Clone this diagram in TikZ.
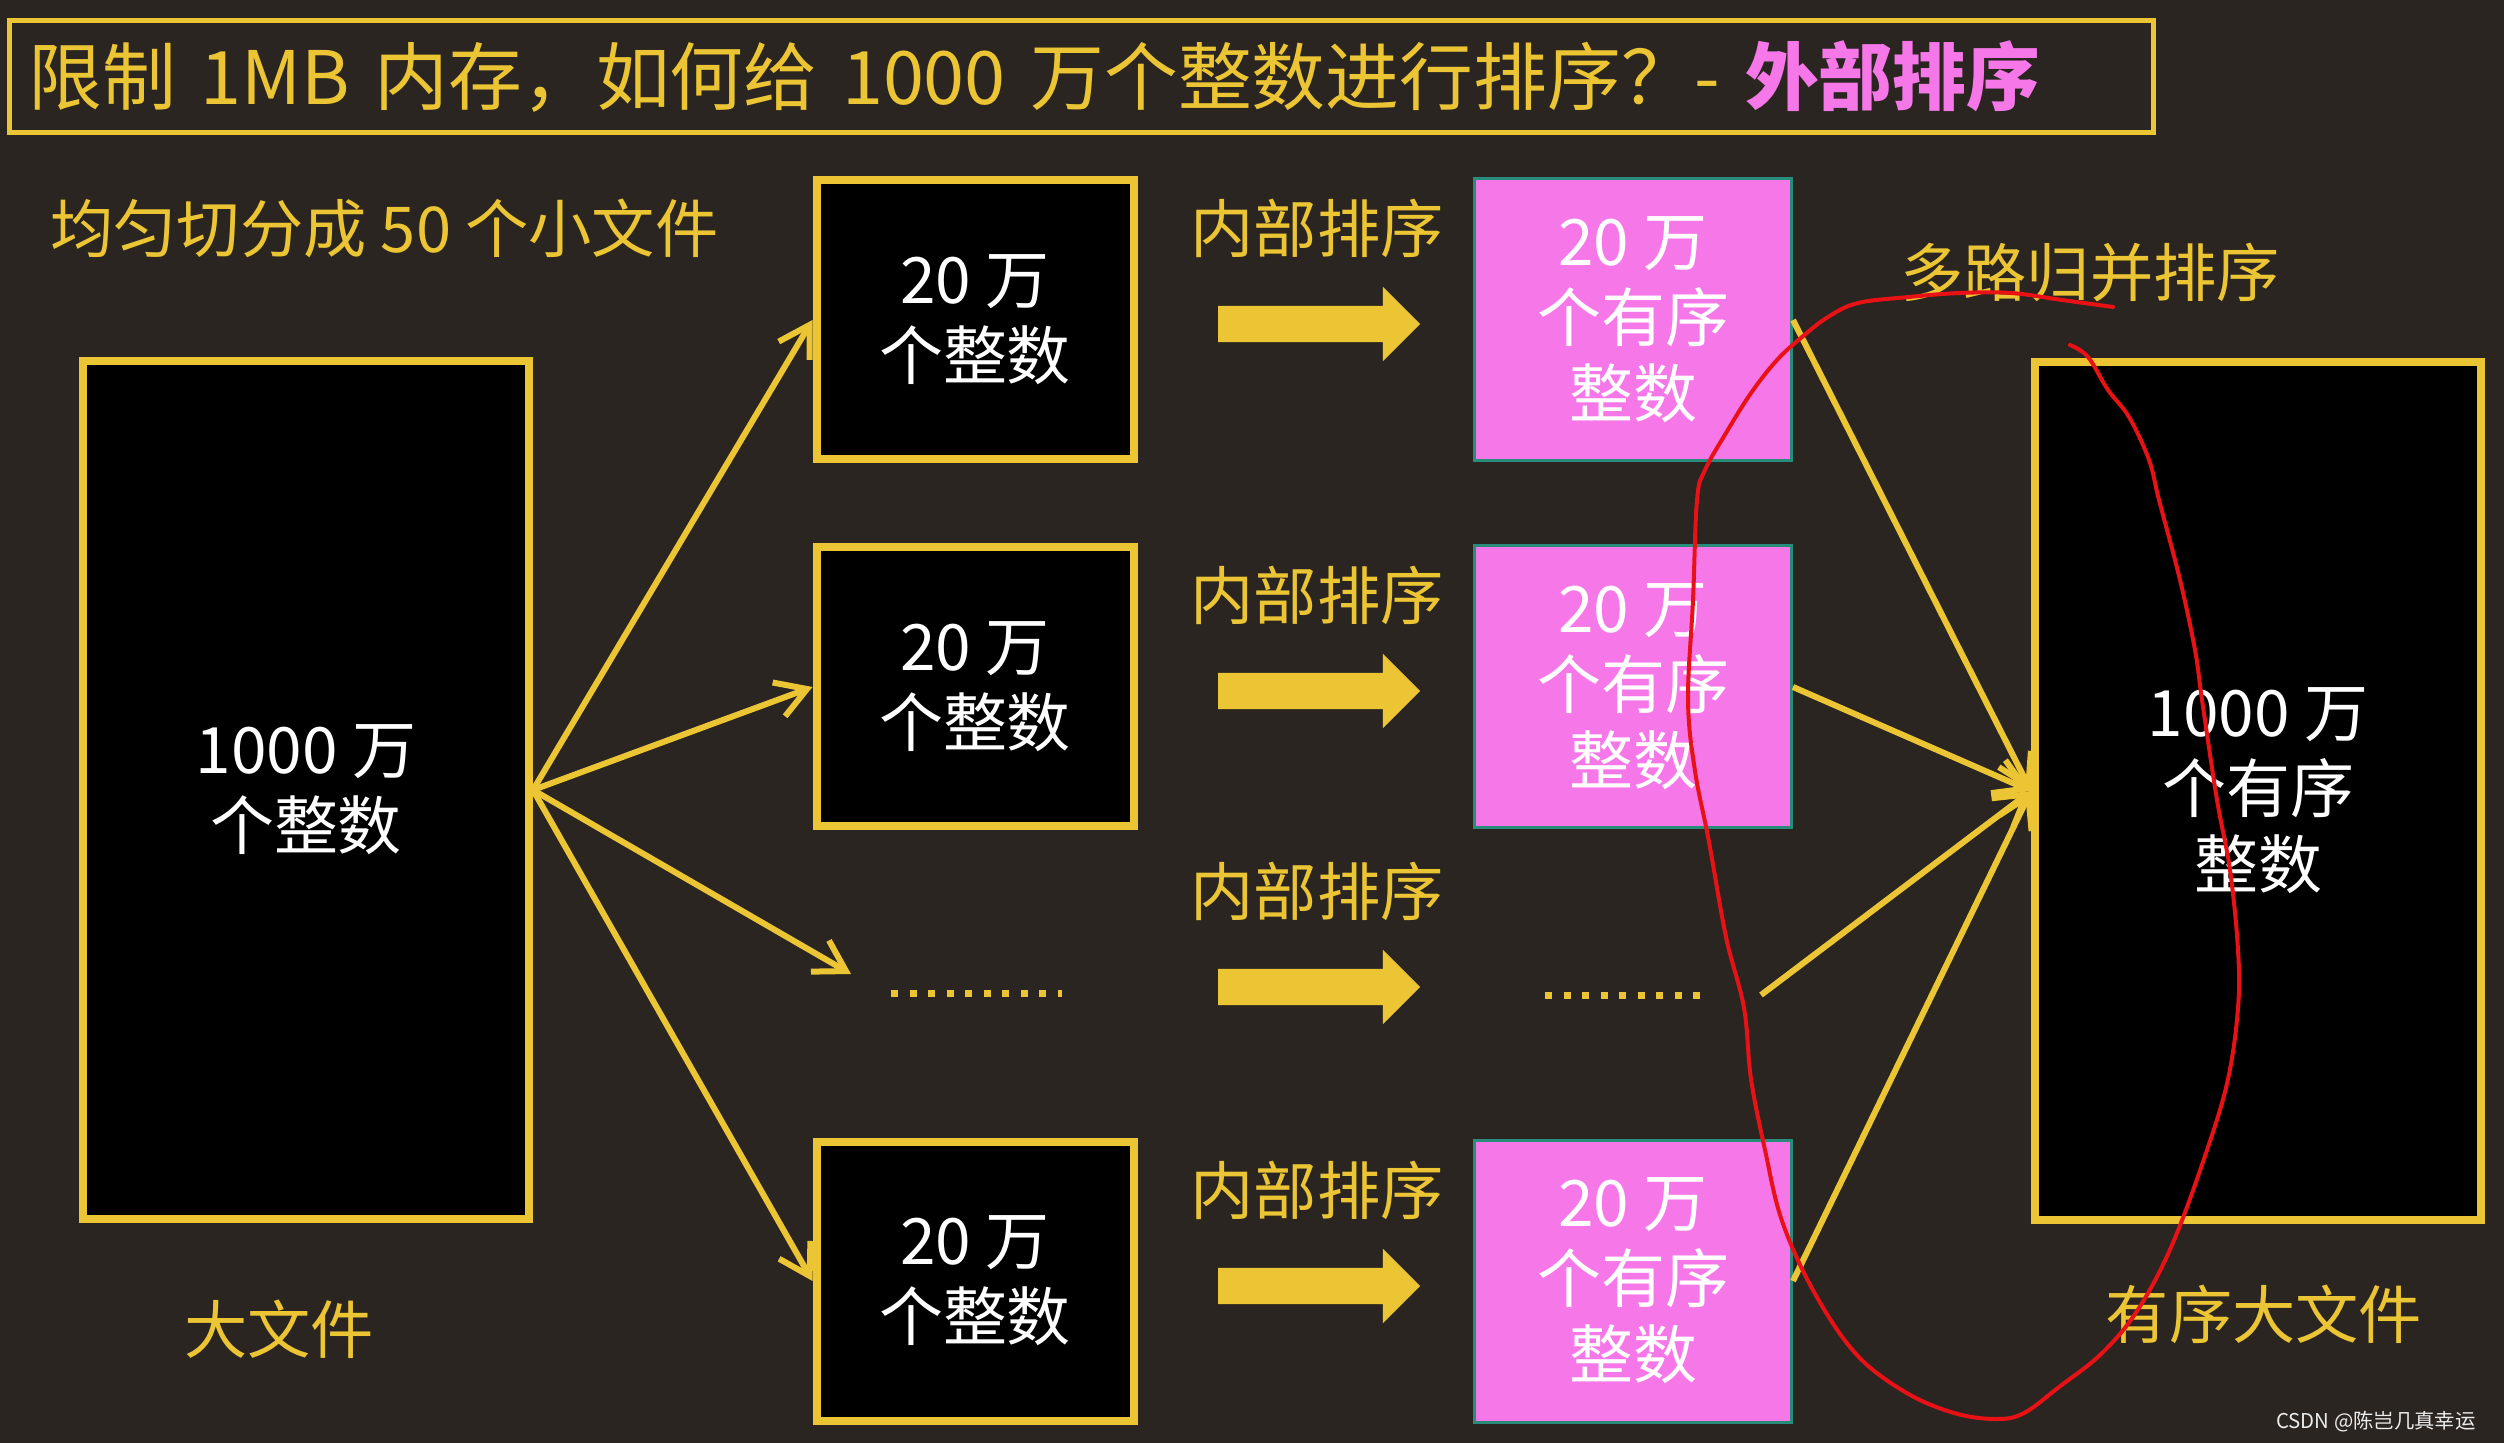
\documentclass[tikz,border=0pt]{standalone}
\usepackage{fontspec}
\setmainfont{Noto Sans CJK SC}
\usetikzlibrary{arrows.meta,shapes.arrows}
\definecolor{bgc}{RGB}{42,37,32}
\definecolor{gold}{RGB}{236,197,52}
\definecolor{rose}{RGB}{246,120,232}
\definecolor{sea}{RGB}{40,140,122}
\definecolor{pen}{RGB}{232,18,22}
\tikzset{
  boxtext/.style={text=white,align=center,font=\fontsize{18.2}{21.6}\selectfont},
  bigfile/.style={boxtext,draw=gold,line width=0.8mm,fill=black,minimum width=44.6mm,minimum height=85.7mm},
  chunk/.style={boxtext,draw=gold,line width=0.8mm,fill=black,minimum width=31.7mm,minimum height=27.9mm},
  sorted/.style={boxtext,draw=sea,line width=0.3mm,fill=rose,minimum width=31.7mm,minimum height=28.2mm},
  caption/.style={text=gold,font=\fontsize{18}{21}\selectfont},
  fan/.style={gold,line width=0.6mm,-{Straight Barb[length=3mm,width=3.6mm]}},
  sortarrow/.style={single arrow,fill=gold,draw=none,inner xsep=0pt,inner ysep=1.75mm,minimum height=20.2mm,single arrow head extend=1.9mm},
  dotrow/.style={gold,line width=0.7mm,dash pattern=on 0.7mm off 1.15mm},
}
\begin{document}
\begin{tikzpicture}[x=0.1mm,y=-0.1mm]
\useasboundingbox[fill=bgc] (0,0) rectangle (2504,1443);
% title bar
\node[draw=gold,line width=0.5mm,text=gold,text width=210.6mm,align=left,inner xsep=1.9mm,minimum height=11.2mm,
  font=\fontsize{21}{24}\selectfont] (title) at (1081.5,76.5)
  {限制 1MB 内存，如何给 1000 万个整数进行排序？- {\bfseries\color{rose}外部排序}};
% files
\node[caption,anchor=west] (split) at (38,228) {均匀切分成 50 个小文件};
\node[bigfile] (src) at (306,790) {1000 万\\个整数};
\node[caption] (srcname) at (279,1329) {大文件};
\node[bigfile] (dst) at (2258,791) {1000 万\\个有序\\整数};
\node[caption] (dstname) at (2264,1314) {有序大文件};
\node[caption] (merge) at (2090,273) {多路归并排序};
\foreach \y/\n in {320/1,687/2,1281/4} {
  \node[chunk] (c\n) at (975,\y) {20 万\\个整数};
  \node[sorted] (s\n) at (1633,\y) {20 万\\个有序\\整数};
}
% elided rows
\coordinate (d1a) at (891,993); \coordinate (d1b) at (1062,993); \coordinate (d1in) at (851,974);
\coordinate (d3a) at (1545,995); \coordinate (d3b) at (1710,995); \coordinate (d3out) at (1761,995);
\draw[dotrow] (d1a) -- (d1b);
\draw[dotrow] (d3a) -- (d3b);
% internal sort
\foreach \y/\n in {324/1,691/2,987/3,1286/4} {
  \node[sortarrow] (sa\n) at (1310,\y) {};
  \node[caption] (sl\n) at (1317,\y-96) {内部排序};
}
% split and merge
\foreach \t in {c1.west,c2.west,d1in,c4.west} \draw[fan] (src.east) -- (\t);
\foreach \s in {s1.east,s2.east,d3out,s4.east} \draw[fan] (\s) -- (dst.west);
% red pen mark
\draw[pen,line width=0.4mm,line cap=round] plot[smooth,tension=0.6] coordinates {(2113,307) (2062,300) (2011,293) (1960,293) (1909,297) (1858,303) (1828,317) (1802,337) (1777,360) (1751,393) (1726,433) (1705,470) (1697,500) (1693,600) (1688,700) (1695,771) (1709,842) (1726,937) (1744,1008) (1751,1079) (1765,1150) (1782,1221) (1814,1292) (1856,1354) (1905,1392) (1954,1413) (1996,1419) (2024,1413) (2059,1387) (2101,1354) (2137,1311) (2172,1245) (2207,1150) (2228,1079) (2238,1008) (2238,950) (2230,870) (2217,800) (2202,700) (2195,650) (2180,580) (2159,500) (2149,460) (2129,417) (2108,390) (2088,357) (2070,345)};
\node[text=white!85!gray,font=\fontsize{5.8}{7}\selectfont,anchor=east] (mark) at (2488,1422) {CSDN @陈岂几真幸运};
\end{tikzpicture}
\end{document}
